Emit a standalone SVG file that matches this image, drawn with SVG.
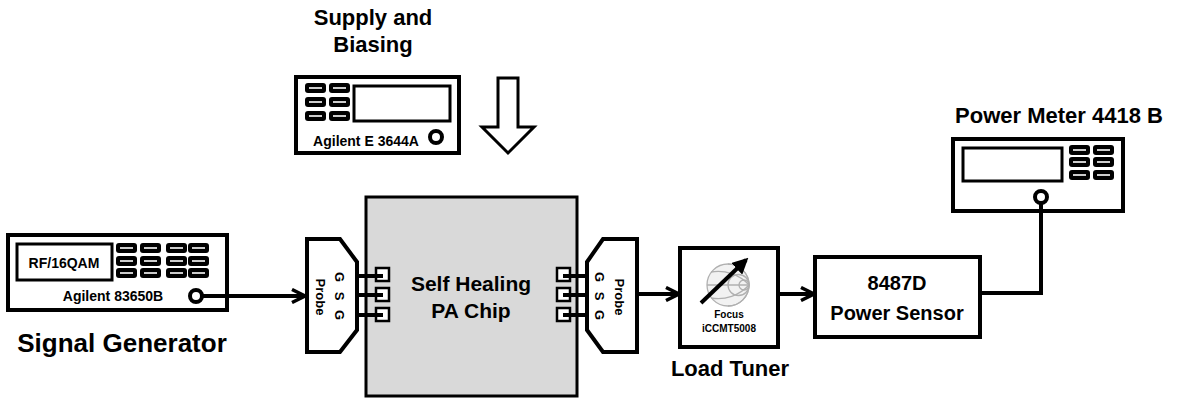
<svg xmlns="http://www.w3.org/2000/svg" width="1177" height="398" viewBox="0 0 1177 398">
  <style>
    .box { fill: #fff; stroke: #000; stroke-width: 4; }
    .thin { fill: #fff; stroke: #000; stroke-width: 3; }
    .wire { fill: none; stroke: #000; stroke-width: 4; }
    .btn { fill: #000; }
    .dash { stroke: #fff; stroke-width: 1.6; }
    .t { font-family: "Liberation Sans", Arial, sans-serif; font-weight: bold; fill: #000; text-anchor: middle; }
    .pad { fill: #fff; stroke: #000; stroke-width: 2.5; }
  </style>
  <defs>
    <marker id="chev" viewBox="0 0 16 16" refX="14" refY="8" markerWidth="16" markerHeight="16" markerUnits="userSpaceOnUse" orient="auto">
      <path d="M1,1.5 L14,8 L1,14.5" fill="none" stroke="#000" stroke-width="3.5"/>
    </marker>
    <marker id="tri" viewBox="0 0 10 10" refX="8" refY="5" markerWidth="4" markerHeight="4" orient="auto">
      <path d="M0,0 L10,5 L0,10 Z" fill="#000"/>
    </marker>
    <g id="key">
      <rect x="0" y="0" width="21" height="10" rx="3" class="btn"/>
      <line x1="4" y1="5" x2="17" y2="5" class="dash"/>
    </g>
  </defs>

  <!-- signal generator -->
  <g id="signal-generator">
    <rect x="8" y="235" width="219" height="75" class="box"/>
    <rect x="17" y="244" width="95" height="36" class="thin"/>
    <text x="64" y="268" class="t" font-size="14">RF/16QAM</text>
    <use href="#key" x="116" y="243"/><use href="#key" x="140" y="243"/><use href="#key" x="166" y="243"/><use href="#key" x="188" y="243"/>
    <use href="#key" x="116" y="256"/><use href="#key" x="140" y="256"/><use href="#key" x="166" y="256"/><use href="#key" x="188" y="256"/>
    <use href="#key" x="116" y="268"/><use href="#key" x="140" y="268"/><use href="#key" x="166" y="268"/><use href="#key" x="188" y="268"/>
    <text x="113" y="301" class="t" font-size="14">Agilent 83650B</text>
    <circle cx="196" cy="296" r="6" fill="#fff" stroke="#000" stroke-width="4"/>
    <text x="122" y="352" class="t" font-size="26">Signal Generator</text>
  </g>

  <!-- DC supply -->
  <g id="supply">
    <text x="373" y="25" class="t" font-size="22">Supply and</text>
    <text x="373" y="52" class="t" font-size="22">Biasing</text>
    <rect x="296" y="77" width="163" height="76" class="box"/>
    <use href="#key" x="305" y="83"/><use href="#key" x="329" y="83"/>
    <use href="#key" x="305" y="97"/><use href="#key" x="329" y="97"/>
    <use href="#key" x="305" y="111"/><use href="#key" x="329" y="111"/>
    <rect x="354" y="86" width="96" height="35" class="thin"/>
    <text x="366" y="146" class="t" font-size="14">Agilent E 3644A</text>
    <circle cx="436" cy="137" r="6" fill="#fff" stroke="#000" stroke-width="4"/>
  </g>

  <!-- PA chip -->
  <g id="pa-chip">
    <rect x="366" y="197" width="211" height="199" fill="#d9d9d9" stroke="#000" stroke-width="3"/>
    <text x="471" y="291" class="t" font-size="21">Self Healing</text>
    <text x="471" y="318" class="t" font-size="21">PA Chip</text>
  </g>

  <!-- input probe -->
  <g id="probe-in">
    <path d="M307,239 L340,239 L357,262 L357,330 L340,352 L307,352 Z" class="box"/>
    <rect x="376" y="268" width="13" height="13" class="pad"/>
    <rect x="376" y="288" width="13" height="13" class="pad"/>
    <rect x="376" y="308" width="13" height="13" class="pad"/>
    <path d="M357,276 H383 M357,295 H383 M357,315 H383" class="wire"/>
    <text transform="translate(339,277) rotate(90)" class="t" font-size="13" dy="4.5">G</text>
    <text transform="translate(339,296) rotate(90)" class="t" font-size="13" dy="4.5">S</text>
    <text transform="translate(339,315) rotate(90)" class="t" font-size="13" dy="4.5">G</text>
    <text transform="translate(320,297) rotate(90)" class="t" font-size="13" dy="4.5">Probe</text>
  </g>

  <!-- output probe -->
  <g id="probe-out">
    <path d="M637,239 L603,239 L587,262 L587,330 L603,352 L637,352 Z" class="box"/>
    <rect x="557" y="268" width="13" height="13" class="pad"/>
    <rect x="557" y="288" width="13" height="13" class="pad"/>
    <rect x="557" y="308" width="13" height="13" class="pad"/>
    <path d="M563,276 H587 M563,295 H587 M563,315 H587" class="wire"/>
    <text transform="translate(599,277) rotate(90)" class="t" font-size="13" dy="4.5">G</text>
    <text transform="translate(599,296) rotate(90)" class="t" font-size="13" dy="4.5">S</text>
    <text transform="translate(599,315) rotate(90)" class="t" font-size="13" dy="4.5">G</text>
    <text transform="translate(619,297) rotate(90)" class="t" font-size="13" dy="4.5">Probe</text>
  </g>

  <!-- load tuner -->
  <g id="load-tuner">
    <rect x="680" y="248" width="98" height="99" class="box"/>
    <g fill="none" stroke="#b0b0b0" stroke-width="1.3">
      <circle cx="728" cy="285" r="21" fill="#f2f2f2"/>
      <line x1="707" y1="285" x2="749" y2="285"/>
      <circle cx="738.5" cy="285" r="10.5"/>
      <circle cx="744" cy="285" r="5"/>
      <path d="M749,285 A21,21 0 0 0 728,264 M749,285 A21,21 0 0 1 728,306"/>
      <path d="M749,285 A42,42 0 0 0 711,272 M749,285 A42,42 0 0 1 711,298"/>
    </g>
    <line x1="701" y1="303" x2="746" y2="260" stroke="#000" stroke-width="4" marker-end="url(#tri)"/>
    <text x="729" y="318" class="t" font-size="10">Focus</text>
    <text x="729" y="332" class="t" font-size="10">iCCMT5008</text>
    <text x="730" y="376" class="t" font-size="22">Load Tuner</text>
  </g>

  <!-- power sensor -->
  <g id="power-sensor">
    <rect x="815" y="257" width="165" height="80" class="box"/>
    <text x="897" y="290" class="t" font-size="20">8487D</text>
    <text x="897" y="320" class="t" font-size="20">Power Sensor</text>
  </g>

  <!-- power meter -->
  <g id="power-meter">
    <text x="1059" y="123" class="t" font-size="22">Power Meter 4418 B</text>
    <rect x="953" y="139" width="170" height="72" class="box"/>
    <rect x="963" y="148" width="99" height="33" class="thin"/>
    <use href="#key" x="1069" y="145"/><use href="#key" x="1093" y="145"/>
    <use href="#key" x="1069" y="157"/><use href="#key" x="1093" y="157"/>
    <use href="#key" x="1069" y="170"/><use href="#key" x="1093" y="170"/>
    <circle cx="1041" cy="197" r="6" fill="#fff" stroke="#000" stroke-width="4"/>
  </g>

  <!-- connectors -->
  <g id="connectors">
    <line x1="202" y1="296" x2="305" y2="296" class="wire" marker-end="url(#chev)"/>
    <line x1="639" y1="294" x2="679" y2="294" class="wire" marker-end="url(#chev)"/>
    <line x1="780" y1="294" x2="814" y2="294" class="wire" marker-end="url(#chev)"/>
    <polyline points="980,293 1041,293 1041,203" class="wire"/>
    <path d="M498,78 H518 V127 H534 L508,153 L482,127 H498 Z" fill="#fff" stroke="#000" stroke-width="3" stroke-linejoin="miter"/>
  </g>
</svg>
